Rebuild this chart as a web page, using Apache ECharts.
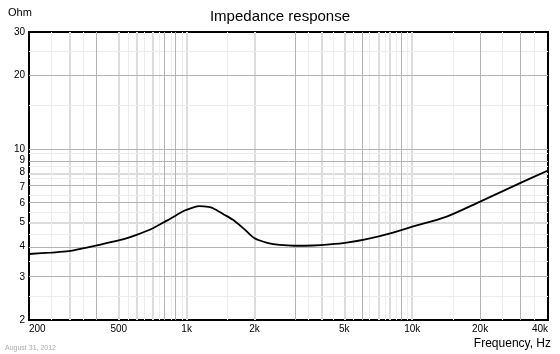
<!DOCTYPE html>
<html>
<head>
<meta charset="utf-8">
<script src="https://cdn.jsdelivr.net/npm/echarts@6/dist/echarts.min.js"></script>
<style>
html,body{margin:0;padding:0;background:#fff;}
#chart{width:560px;height:354px;}
</style>
</head>
<body>
<div id="chart"></div>
<script>
// Impedance curve (frequency in Hz, impedance in Ohm)
const freqHz = [200, 250, 300, 352, 400, 450, 531, 600, 709, 813, 900, 980, 1050, 1142, 1250, 1309, 1450, 1605, 1800, 2000, 2300, 2588, 3000, 3635, 4300, 5116, 6280, 8000, 10100, 14220, 20000, 30060, 40000];
const impedanceOhm = [3.72, 3.77, 3.82, 3.93, 4.03, 4.14, 4.29, 4.45, 4.74, 5.08, 5.36, 5.60, 5.73, 5.83, 5.79, 5.72, 5.42, 5.13, 4.70, 4.31, 4.12, 4.05, 4.02, 4.03, 4.07, 4.14, 4.28, 4.52, 4.82, 5.29, 6.09, 7.24, 8.16];

// Tick labels
const xTickLabels = [200, 500, 1000, 2000, 5000, 10000, 20000, 40000];
const yTickLabels = [2, 3, 4, 5, 6, 7, 8, 9, 10, 20, 30];

// Grid lines
const xGridLight = [250, 350, 550, 650, 750, 850, 950, 1500, 3500, 4500, 5500, 6500, 7500, 8500, 9500, 15000, 25000, 35000];
const xGridThick = [300, 500, 600, 700, 1000, 2000, 4000, 5000, 7000, 8000, 10000];
const xGridMedium = [400, 800, 900, 3000, 6000, 9000, 20000, 30000];
const yGridLight = [2.5, 3.5, 4.5, 5.5, 6.5, 7.5, 8.5, 9.5, 15, 25];
const yGridThick = [5, 8];
const yGridMedium = [3, 4, 6, 7, 9, 10, 20];

const xMin = 200, xMax = 40000, yMin = 2, yMax = 30;

const lg = Math.log10;
function fmtFreq(v) {
  const f = Math.round(Math.pow(10, v));
  return f >= 1000 ? (f / 1000) + 'k' : String(f);
}
function fmtOhm(v) {
  return String(Math.round(Math.pow(10, v)));
}
function gridLines(xs, ys) {
  return xs.map(v => ({ xAxis: lg(v) })).concat(ys.map(v => ({ yAxis: lg(v) })));
}
function gridSeries(xs, ys, color, width, z) {
  return {
    type: 'line', data: [], silent: true, z: z,
    markLine: {
      silent: true, symbol: 'none', animation: false,
      label: { show: false },
      emphasis: { disabled: true },
      lineStyle: { color: color, width: width, type: 'solid' },
      data: gridLines(xs, ys)
    }
  };
}

const font = 'Liberation Sans, Arial, sans-serif';
const chart = echarts.init(document.getElementById('chart'), null, { renderer: 'canvas' });
chart.setOption({
  animation: false,
  backgroundColor: '#fff',
  title: [
    { text: 'Impedance response', left: 'center', top: 9, padding: 0,
      textStyle: { fontSize: 15, fontWeight: 'normal', color: '#000', fontFamily: font } },
    { text: 'Ohm', left: 8, top: 7, padding: 0,
      textStyle: { fontSize: 11, fontWeight: 'normal', color: '#000', fontFamily: font } },
    { text: 'Frequency, Hz', right: 9, top: 338, padding: 0,
      textStyle: { fontSize: 12, fontWeight: 'normal', color: '#000', fontFamily: font } },
    { text: 'August 31, 2012', left: 5, top: 345, padding: 0,
      textStyle: { fontSize: 7, fontWeight: 'normal', color: '#aaa', fontFamily: font } }
  ],
  grid: { left: 29, right: 12, top: 32, bottom: 34, show: true, borderColor: '#000', borderWidth: 2, backgroundColor: '#fff' },
  xAxis: {
    type: 'value', min: lg(xMin), max: lg(xMax),
    axisLine: { show: false },
    axisTick: { show: false },
    splitLine: { show: false },
    axisLabel: {
      customValues: xTickLabels.map(lg),
      formatter: fmtFreq,
      fontSize: 10, color: '#000', fontFamily: font, margin: 4,
      alignMinLabel: 'left', alignMaxLabel: 'right'
    }
  },
  yAxis: {
    type: 'value', min: lg(yMin), max: lg(yMax),
    axisLine: { show: false },
    axisTick: { show: false },
    splitLine: { show: false },
    axisLabel: {
      customValues: yTickLabels.map(lg),
      formatter: fmtOhm,
      fontSize: 10, color: '#000', fontFamily: font, margin: 4
    }
  },
  series: [
    gridSeries(xGridThick, yGridThick, '#dcdcdc', 2, 1),
    gridSeries(xGridLight, yGridLight, '#ececec', 1, 2),
    gridSeries(xGridMedium, yGridMedium, '#b4b4b4', 1, 3),
    {
      type: 'line', z: 10,
      data: freqHz.map((f, i) => [lg(f), lg(impedanceOhm[i])]),
      smooth: 0.3, showSymbol: false, symbol: 'none',
      lineStyle: { color: '#000', width: 1.8 }
    }
  ]
});
</script>
</body>
</html>
